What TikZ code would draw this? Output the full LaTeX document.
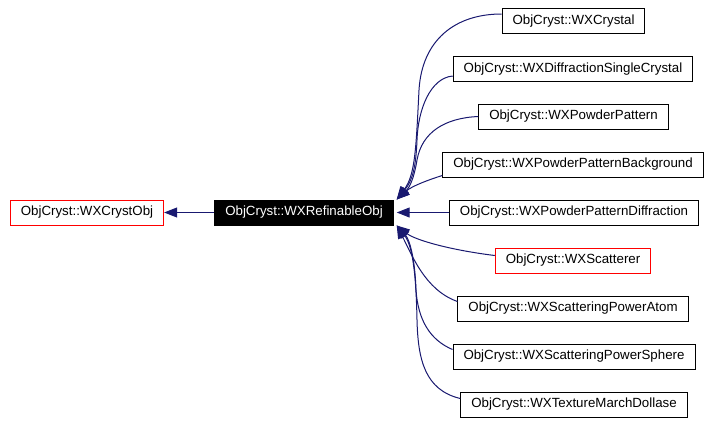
\documentclass[tikz,border=0pt]{standalone}
\usepackage{fontspec}
\setmainfont{Liberation Sans}
\usepackage{tikz}
\usetikzlibrary{arrows.meta}
\definecolor{edgeblue}{RGB}{25,25,112}
\tikzstyle{cls}=[draw,rectangle,fill=white,line width=1pt,minimum height=25pt,inner xsep=10.5pt,inner ysep=0pt,font=\fontsize{13.3}{16}\selectfont]
\tikzstyle{redcls}=[cls,draw=red]
\tikzstyle{curcls}=[cls,fill=black,text=white]
\tikzstyle{inh}=[draw=edgeblue,line width=1pt,-{Triangle[length=13pt,width=10pt]}]

\begin{document}
\begin{tikzpicture}[x=1pt,y=-1pt]
      \useasboundingbox (0,0) rectangle (711,423);
%      \draw [help lines] (0,0) grid (711,423);
      \node [redcls] (crystobj) at (87,212.5) {ObjCryst::WXCrystObj};
      \node [curcls] (refobj) at (304,212.5) {ObjCryst::WXRefinableObj};
      \node [cls] (crystal) at (573.5,21) {ObjCryst::WXCrystal};
      \node [cls] (dsc) at (573,69) {ObjCryst::WXDiffractionSingleCrystal};
      \node [cls] (pp) at (573.5,116.5) {ObjCryst::WXPowderPattern};
      \node [cls] (ppb) at (573,164.5) {ObjCryst::WXPowderPatternBackground};
      \node [cls] (ppd) at (574,212.5) {ObjCryst::WXPowderPatternDiffraction};
      \node [redcls] (scat) at (573,260.5) {ObjCryst::WXScatterer};
      \node [cls] (spa) at (573,308.5) {ObjCryst::WXScatteringPowerAtom};
      \node [cls] (sps) at (574,356.5) {ObjCryst::WXScatteringPowerSphere};
      \node [cls] (tmd) at (574,404.5) {ObjCryst::WXTextureMarchDollase};
      \draw [inh] (refobj) -- (crystobj);
      \draw [inh] ([yshift=7pt]crystal.west) .. controls (455,14) and (422,40) .. (419,90)
        .. controls (416,150) and (415,175) .. ([xshift=3pt]refobj.north east);
      \draw [inh] ([yshift=-7pt]dsc.west) .. controls (430,78) and (418,110) .. (417,140)
        .. controls (416,165) and (413,180) .. ([xshift=3pt]refobj.north east);
      \draw [inh] (pp.west) .. controls (445,118) and (422,132) .. (417,160)
        .. controls (414,178) and (410,187) .. ([xshift=3pt]refobj.north east);
      \draw [inh] ([yshift=-11pt]ppb.west) .. controls (428,180) and (412,186) .. ([xshift=3pt]refobj.north east);
      \draw [inh] (ppd) -- ([xshift=3pt]refobj.east);
      \draw [inh] ([yshift=5pt]scat.west) .. controls (450,250) and (415,240) .. ([xshift=3pt]refobj.south east);
      \draw [inh] ([yshift=7pt]spa.west) .. controls (425,290) and (412,255) .. ([xshift=3pt]refobj.south east);
      \draw [inh] ([yshift=7pt]sps.west) .. controls (430,340) and (418,320) .. (416,290)
        .. controls (415,260) and (410,240) .. ([xshift=3pt]refobj.south east);
      \draw [inh] ([yshift=6pt]tmd.west) .. controls (425,390) and (418,360) .. (417,320)
        .. controls (416,270) and (412,245) .. ([xshift=3pt]refobj.south east);
    \end{tikzpicture}
\end{document}
